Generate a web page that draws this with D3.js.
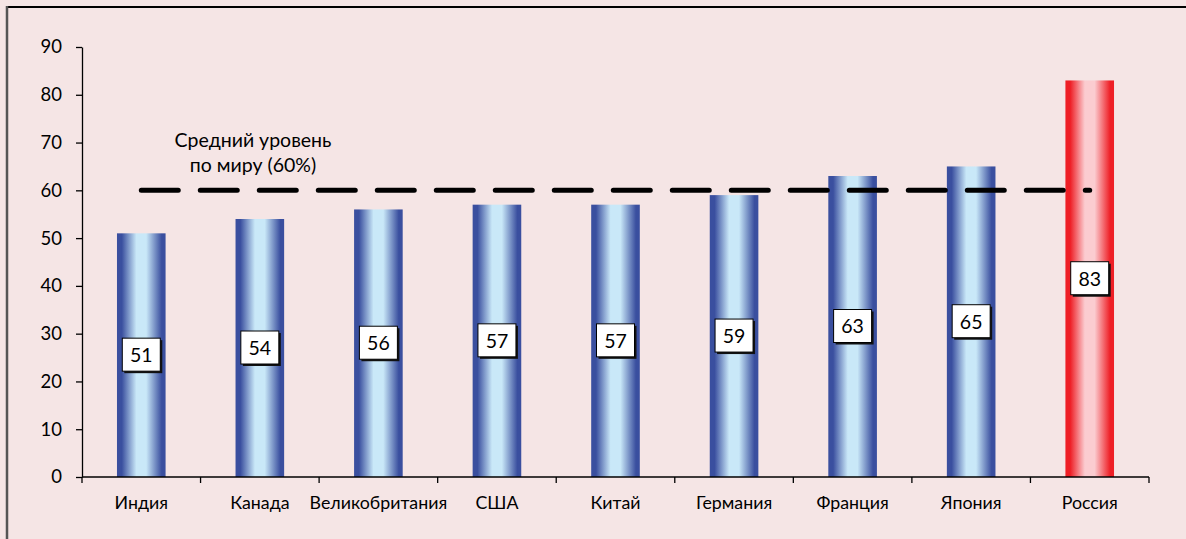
<!DOCTYPE html>
<html>

<head>
    <meta charset="UTF-8">
    <style>
        body { margin: 0; background: #f5e5e5; }
        svg { display: block; font-family: "Lato", "Open Sans", sans-serif; }
    </style>
</head>

<body>
    <svg></svg>
    <script src="https://d3js.org/d3.v7.min.js"></script>

    <script>
        const width = 1186, height = 539;
        const margin = { top: 47, bottom: 62, left: 82, right: 37 };

        // data
        const countries = ["Индия", "Канада", "Великобритания", "США", "Китай", "Германия", "Франция", "Япония", "Россия"];
        const values = [51, 54, 56, 57, 57, 59, 63, 65, 83];
        const worldAvg = [60, 60, 60, 60, 60, 60, 60, 60, 60];
        const yTicks = [0, 10, 20, 30, 40, 50, 60, 70, 80, 90];
        const highlight = "Россия";

        const svg = d3.select("svg")
            .attr("width", width)
            .attr("height", height);

        // gradients for the bars
        const defs = svg.append("defs");
        function addGrad(id, edge, mid) {
            const g = defs.append("linearGradient").attr("id", id)
                .attr("x1", "0%").attr("x2", "100%").attr("y1", "0%").attr("y2", "0%");
            g.append("stop").attr("offset", "0%").attr("stop-color", edge);
            g.append("stop").attr("offset", "10%").attr("stop-color", edge);
            g.append("stop").attr("offset", "40%").attr("stop-color", mid);
            g.append("stop").attr("offset", "60%").attr("stop-color", mid);
            g.append("stop").attr("offset", "92%").attr("stop-color", edge);
            g.append("stop").attr("offset", "100%").attr("stop-color", edge);
        }
        addGrad("blueGrad", "#3a4f9f", "#c9e8f8");
        addGrad("redGrad", "#ee1f26", "#fbccd0");

        // frame
        svg.append("line").attr("x1", 7).attr("x2", width).attr("y1", 7).attr("y2", 7)
            .attr("stroke", "#000").attr("stroke-width", 2);
        svg.append("line").attr("x1", 7).attr("x2", 7).attr("y1", 6).attr("y2", height)
            .attr("stroke", "#555").attr("stroke-width", 2.5);

        // scales
        const x = d3.scaleBand()
            .domain(countries)
            .range([margin.left, width - margin.right])
            .paddingInner(0.59)
            .paddingOuter(0.295);

        const y = d3.scaleLinear()
            .domain([0, 90])
            .range([height - margin.bottom, margin.top]);

        const cx = d => x(d) + x.bandwidth() / 2;

        // bars
        svg.append("g")
            .selectAll("rect")
            .data(countries)
            .join("rect")
            .attr("x", d => x(d))
            .attr("y", (d, i) => y(values[i]))
            .attr("width", x.bandwidth())
            .attr("height", (d, i) => y(0) - y(values[i]))
            .attr("fill", d => d === highlight ? "url(#redGrad)" : "url(#blueGrad)");

        // y axis
        const yAxis = svg.append("g")
            .attr("transform", "translate(" + margin.left + ",0)")
            .call(d3.axisLeft(y).tickValues(yTicks).tickSize(6).tickPadding(14).tickSizeOuter(0));
        yAxis.select(".domain").attr("stroke", "#000").attr("stroke-width", 1.3);
        yAxis.selectAll(".tick line").attr("stroke", "#000").attr("stroke-width", 1.3);
        yAxis.selectAll(".tick text").attr("font-size", "18.5px").attr("fill", "#000")
            .attr("font-family", "Lato, sans-serif");

        // x axis: labels under bars, ticks on band boundaries
        const xAxis = svg.append("g")
            .attr("transform", "translate(0," + y(0) + ")")
            .call(d3.axisBottom(x).tickSize(0).tickPadding(19));
        xAxis.select(".domain").remove();
        xAxis.selectAll(".tick text").attr("font-size", "17.8px").attr("fill", "#000")
            .attr("font-family", "Lato, sans-serif");

        const edges = countries.map(d => x(d) - x.step() * x.paddingOuter());
        edges.push(x.range()[1]);
        const xg = svg.append("g").attr("stroke", "#000").attr("stroke-width", 1.3);
        xg.append("line")
            .attr("x1", x.range()[0]).attr("x2", x.range()[1])
            .attr("y1", y(0)).attr("y2", y(0));
        xg.selectAll("line.edge")
            .data(edges)
            .join("line")
            .attr("class", "edge")
            .attr("x1", d => d).attr("x2", d => d)
            .attr("y1", y(0)).attr("y2", y(0) + 6);

        // world average dashed line
        const line = d3.line()
            .x((d, i) => cx(countries[i]))
            .y(d => y(d));
        svg.append("path")
            .datum(worldAvg)
            .attr("d", line)
            .attr("fill", "none")
            .attr("stroke", "#000")
            .attr("stroke-width", 5)
            .attr("stroke-linecap", "round")
            .attr("stroke-dasharray", "37,22");

        const note = svg.append("text")
            .attr("text-anchor", "middle")
            .attr("font-size", "19.5px")
            .attr("fill", "#000");
        note.append("tspan").attr("x", 253).attr("y", y(60) - 43).text("Средний уровень");
        note.append("tspan").attr("x", 253).attr("y", y(60) - 18).text("по миру (60%)");

        // value labels
        const lbl = svg.append("g")
            .selectAll("g")
            .data(countries)
            .join("g")
            .attr("transform", (d, i) => "translate(" + cx(d) + "," + y(values[i] / 2) + ")");
        lbl.append("rect")
            .attr("x", -17).attr("y", -15)
            .attr("width", 38).attr("height", 33)
            .attr("fill", "#111");
        lbl.append("rect")
            .attr("x", -19).attr("y", -17)
            .attr("width", 38).attr("height", 33)
            .attr("fill", "#fff")
            .attr("stroke", "#000")
            .attr("stroke-width", 1);
        lbl.append("text")
            .attr("text-anchor", "middle")
            .attr("dy", "0.35em")
            .attr("y", 0)
            .attr("font-size", "19.5px")
            .attr("fill", "#000")
            .text((d, i) => values[i]);
    </script>

</body>

</html>
